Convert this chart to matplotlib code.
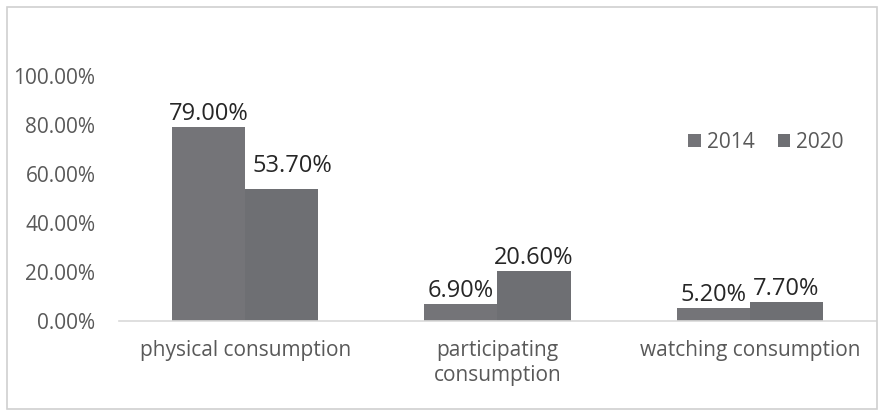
import numpy as np
import matplotlib.pyplot as plt
from matplotlib.patches import Rectangle

categories = ["physical consumption", "participating\nconsumption", "watching consumption"]
years = ["2014", "2020"]
values_2014 = [79.00, 6.90, 5.20]
values_2020 = [53.70, 20.60, 7.70]

plt.rcParams['font.family'] = ['Open Sans', 'DejaVu Sans']

fig = plt.figure(figsize=(8.79, 4.12), dpi=100)
ax = fig.add_axes([119 / 879, 1 - 321 / 412, 757 / 879, 245 / 412])

# outer chart border
fig.patches.append(Rectangle((7 / 879, 3 / 412), 870 / 879, 402 / 412, transform=fig.transFigure,
                             fill=False, edgecolor='#d0d0d0', linewidth=1.2))

x = np.arange(len(categories))
w = 0.29
b1 = ax.bar(x - w / 2, values_2014, w, color='#747478', label=years[0])
b2 = ax.bar(x + w / 2, values_2020, w, color='#6e6f73', label=years[1])

for bars, vals in ((b1, values_2014), (b2, values_2020)):
    for bar, v in zip(bars, vals):
        # the 53.70% label sits a bit up and right in the original
        dx, dy = (11, 10) if bar is b2[0] else (0, 0)
        ax.annotate(f"{v:.2f}%", (bar.get_x() + bar.get_width() / 2, v),
                    xytext=(dx, 1 + dy), textcoords='offset pixels',
                    ha='center', va='bottom', fontsize=17, color='#262626')

ax.set_xlim(-0.5, 2.5)
ax.set_ylim(0, 100)
ax.set_yticks(np.arange(0, 101, 20))
ax.set_yticklabels([f"{t:.2f}%" for t in np.arange(0, 101, 20)])
ax.set_xticks(x)
ax.set_xticklabels(categories, linespacing=1.25)
ax.tick_params(axis='both', length=0, labelsize=15, labelcolor='#595959')
ax.tick_params(axis='y', pad=17)
ax.tick_params(axis='x', pad=14)

for s in ('top', 'right', 'left'):
    ax.spines[s].set_visible(False)
ax.spines['bottom'].set_color('#d9d9d9')
ax.spines['bottom'].set_linewidth(1.2)

ax.legend(loc='center', bbox_to_anchor=(766 / 879, 1 - 142 / 412), bbox_transform=fig.transFigure,
          ncol=2, frameon=False, fontsize=15, labelcolor='#595959',
          handlelength=0.6, handleheight=0.6, handletextpad=0.3, columnspacing=1.1)

fig.savefig("out.png", dpi=100)
